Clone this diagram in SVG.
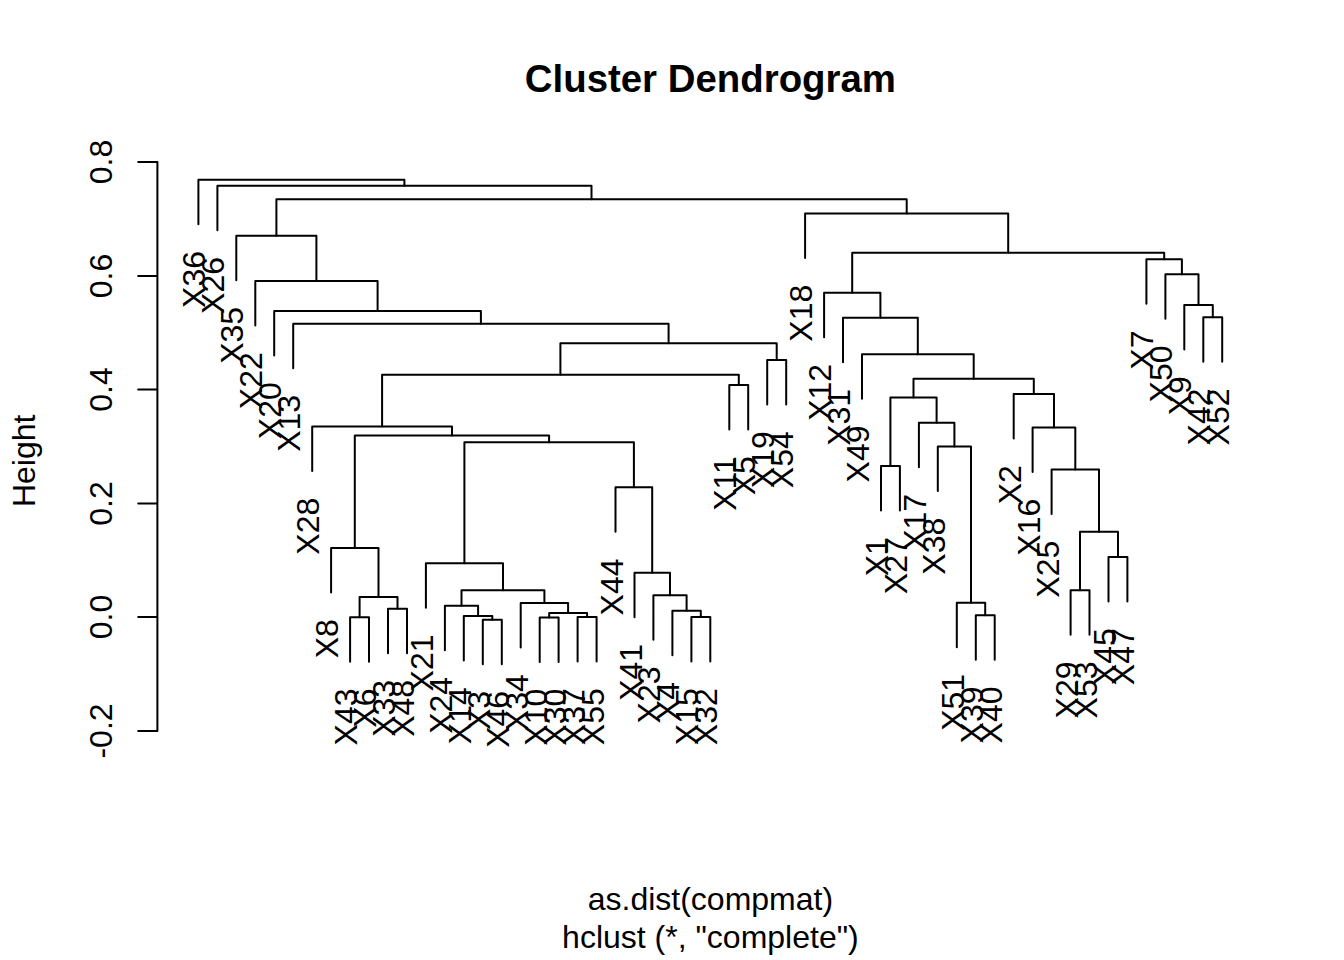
<svg xmlns="http://www.w3.org/2000/svg" width="1344" height="960" viewBox="0 0 1344 960">
<style>
text{font-family:"Liberation Sans",Arial,Helvetica,sans-serif;font-size:32px;fill:#000}
.lab{text-anchor:end}
.ax{text-anchor:middle}
.title{font-size:38.4px;font-weight:bold;text-anchor:middle}
.br{fill:none;stroke:#000;stroke-width:2;stroke-linecap:round;stroke-linejoin:round}
</style>
<rect width="1344" height="960" fill="#fff"/>
<text class="title" x="710.4" y="92">Cluster Dendrogram</text>
<g id="axis">
<path class="br" d="M157.4 162V731M157.4 162H138.2M157.4 276H138.2M157.4 389.5H138.2M157.4 503.5H138.2M157.4 617H138.2M157.4 731H138.2"/>
<text class="ax" transform="translate(112,162) rotate(-90)">0.8</text>
<text class="ax" transform="translate(112,276) rotate(-90)">0.6</text>
<text class="ax" transform="translate(112,389.5) rotate(-90)">0.4</text>
<text class="ax" transform="translate(112,503.5) rotate(-90)">0.2</text>
<text class="ax" transform="translate(112,617) rotate(-90)">0.0</text>
<text class="ax" transform="translate(112,731) rotate(-90)">-0.2</text>
<text class="ax" transform="translate(35,460.8) rotate(-90)">Height</text>
</g>
<text class="ax" x="710.4" y="909.5">as.dist(compmat)</text>
<text class="ax" x="710.4" y="947.9">hclust (*, "complete")</text>
<g id="connectors" class="br">
<path d="M198.4 224.3V179.8H404.4V185.8"/>
<path d="M217.4 230.3V185.8H591.5V199.2"/>
<path d="M276.4 235.7V199.2H906.7V213.5"/>
<path d="M236.3 280.2V235.7H316.4V281"/>
<path d="M255.3 325.5V281H377.6V311"/>
<path d="M274.2 355.5V311H480.9V323.7"/>
<path d="M293.2 368.2V323.7H668.6V343.3"/>
<path d="M560.4 374.7V343.3H776.7V360"/>
<path d="M382.1 426.5V374.7H738.8V385"/>
<path d="M729.3 429.5V385H748.2V429.5"/>
<path d="M767.2 404.5V360H786.2V404.5"/>
<path d="M312.2 471V426.5H452V435.5"/>
<path d="M354.8 548V435.5H549.1V442.3"/>
<path d="M331.1 592.5V548H378.5V597"/>
<path d="M359.6 617.3V597H397.5V608.7"/>
<path d="M350.1 661.8V617.3H369V661.8"/>
<path d="M388 653.2V608.7H407V653.2"/>
<path d="M464.4 563.3V442.3H633.9V487.3"/>
<path d="M425.9 607.8V563.3H503V590.3"/>
<path d="M461.5 605.7V590.3H544.4V603"/>
<path d="M444.9 650.2V605.7H478.1V616"/>
<path d="M463.8 660.5V616H492.3V619.7"/>
<path d="M482.8 664.2V619.7H501.8V664.2"/>
<path d="M520.7 647.5V603H568.1V613"/>
<path d="M549.2 617.5V613H587.1V617"/>
<path d="M539.7 662V617.5H558.6V662"/>
<path d="M577.6 661.5V617H596.6V661.5"/>
<path d="M615.5 531.8V487.3H652.2V572.7"/>
<path d="M634.5 617.2V572.7H670V595.3"/>
<path d="M653.4 639.8V595.3H686.6V610.7"/>
<path d="M672.4 655.2V610.7H700.8V617"/>
<path d="M691.4 661.5V617H710.3V661.5"/>
<path d="M805.1 258V213.5H1008.2V252.7"/>
<path d="M852.2 292.7V252.7H1164.2V259.3"/>
<path d="M824.1 337.2V292.7H880.4V317.7"/>
<path d="M843 362.2V317.7H917.8V354.3"/>
<path d="M862 398.8V354.3H973.7V378.7"/>
<path d="M913.5 397.5V378.7H1033.8V394"/>
<path d="M890.4 466V397.5H936.6V422.7"/>
<path d="M881 510.5V466H899.9V510.5"/>
<path d="M918.9 467.2V422.7H954.4V446.5"/>
<path d="M937.8 491V446.5H971V602.7"/>
<path d="M956.8 647.2V602.7H985.2V615.3"/>
<path d="M975.8 659.8V615.3H994.7V659.8"/>
<path d="M1013.7 438.5V394H1054V427.5"/>
<path d="M1032.6 472V427.5H1075.3V469.5"/>
<path d="M1051.6 514V469.5H1099V531.7"/>
<path d="M1080 590.3V531.7H1118V557"/>
<path d="M1070.6 634.8V590.3H1089.5V634.8"/>
<path d="M1108.5 601.5V557H1127.4V601.5"/>
<path d="M1146.4 303.8V259.3H1181.9V274.3"/>
<path d="M1165.4 318.8V274.3H1198.5V305"/>
<path d="M1184.3 349.5V305H1212.8V317.3"/>
<path d="M1203.3 361.8V317.3H1222.2V361.8"/>
</g>
<g id="leaf-X36"><text class="lab" transform="translate(205.4,251) rotate(-90)">X36</text></g>
<g id="leaf-X26"><text class="lab" transform="translate(224.4,257) rotate(-90)">X26</text></g>
<g id="leaf-X35"><text class="lab" transform="translate(243.3,306.9) rotate(-90)">X35</text></g>
<g id="leaf-X22"><text class="lab" transform="translate(262.3,352.2) rotate(-90)">X22</text></g>
<g id="leaf-X20"><text class="lab" transform="translate(281.2,382.2) rotate(-90)">X20</text></g>
<g id="leaf-X13"><text class="lab" transform="translate(300.2,394.9) rotate(-90)">X13</text></g>
<g id="leaf-X28"><text class="lab" transform="translate(319.2,497.7) rotate(-90)">X28</text></g>
<g id="leaf-X8"><text class="lab" transform="translate(338.1,619.2) rotate(-90)">X8</text></g>
<g id="leaf-X43"><text class="lab" transform="translate(357.1,688.5) rotate(-90)">X43</text></g>
<g id="leaf-X6"><text class="lab" transform="translate(376,688.5) rotate(-90)">X6</text></g>
<g id="leaf-X33"><text class="lab" transform="translate(395,679.9) rotate(-90)">X33</text></g>
<g id="leaf-X48"><text class="lab" transform="translate(414,679.9) rotate(-90)">X48</text></g>
<g id="leaf-X21"><text class="lab" transform="translate(432.9,634.5) rotate(-90)">X21</text></g>
<g id="leaf-X24"><text class="lab" transform="translate(451.9,676.9) rotate(-90)">X24</text></g>
<g id="leaf-X14"><text class="lab" transform="translate(470.8,687.2) rotate(-90)">X14</text></g>
<g id="leaf-X3"><text class="lab" transform="translate(489.8,690.9) rotate(-90)">X3</text></g>
<g id="leaf-X46"><text class="lab" transform="translate(508.8,690.9) rotate(-90)">X46</text></g>
<g id="leaf-X34"><text class="lab" transform="translate(527.7,674.2) rotate(-90)">X34</text></g>
<g id="leaf-X10"><text class="lab" transform="translate(546.7,688.7) rotate(-90)">X10</text></g>
<g id="leaf-X30"><text class="lab" transform="translate(565.6,688.7) rotate(-90)">X30</text></g>
<g id="leaf-X37"><text class="lab" transform="translate(584.6,688.2) rotate(-90)">X37</text></g>
<g id="leaf-X55"><text class="lab" transform="translate(603.6,688.2) rotate(-90)">X55</text></g>
<g id="leaf-X44"><text class="lab" transform="translate(622.5,558.5) rotate(-90)">X44</text></g>
<g id="leaf-X41"><text class="lab" transform="translate(641.5,643.9) rotate(-90)">X41</text></g>
<g id="leaf-X23"><text class="lab" transform="translate(660.4,666.5) rotate(-90)">X23</text></g>
<g id="leaf-X4"><text class="lab" transform="translate(679.4,681.9) rotate(-90)">X4</text></g>
<g id="leaf-X15"><text class="lab" transform="translate(698.4,688.2) rotate(-90)">X15</text></g>
<g id="leaf-X32"><text class="lab" transform="translate(717.3,688.2) rotate(-90)">X32</text></g>
<g id="leaf-X11"><text class="lab" transform="translate(736.3,456.2) rotate(-90)">X11</text></g>
<g id="leaf-X5"><text class="lab" transform="translate(755.2,456.2) rotate(-90)">X5</text></g>
<g id="leaf-X19"><text class="lab" transform="translate(774.2,431.2) rotate(-90)">X19</text></g>
<g id="leaf-X54"><text class="lab" transform="translate(793.2,431.2) rotate(-90)">X54</text></g>
<g id="leaf-X18"><text class="lab" transform="translate(812.1,284.7) rotate(-90)">X18</text></g>
<g id="leaf-X12"><text class="lab" transform="translate(831.1,363.9) rotate(-90)">X12</text></g>
<g id="leaf-X31"><text class="lab" transform="translate(850,388.9) rotate(-90)">X31</text></g>
<g id="leaf-X49"><text class="lab" transform="translate(869,425.5) rotate(-90)">X49</text></g>
<g id="leaf-X1"><text class="lab" transform="translate(888,537.2) rotate(-90)">X1</text></g>
<g id="leaf-X27"><text class="lab" transform="translate(906.9,537.2) rotate(-90)">X27</text></g>
<g id="leaf-X17"><text class="lab" transform="translate(925.9,493.9) rotate(-90)">X17</text></g>
<g id="leaf-X38"><text class="lab" transform="translate(944.8,517.7) rotate(-90)">X38</text></g>
<g id="leaf-X51"><text class="lab" transform="translate(963.8,673.9) rotate(-90)">X51</text></g>
<g id="leaf-X39"><text class="lab" transform="translate(982.8,686.5) rotate(-90)">X39</text></g>
<g id="leaf-X40"><text class="lab" transform="translate(1001.7,686.5) rotate(-90)">X40</text></g>
<g id="leaf-X2"><text class="lab" transform="translate(1020.7,465.2) rotate(-90)">X2</text></g>
<g id="leaf-X16"><text class="lab" transform="translate(1039.6,498.7) rotate(-90)">X16</text></g>
<g id="leaf-X25"><text class="lab" transform="translate(1058.6,540.7) rotate(-90)">X25</text></g>
<g id="leaf-X29"><text class="lab" transform="translate(1077.6,661.5) rotate(-90)">X29</text></g>
<g id="leaf-X53"><text class="lab" transform="translate(1096.5,661.5) rotate(-90)">X53</text></g>
<g id="leaf-X45"><text class="lab" transform="translate(1115.5,628.2) rotate(-90)">X45</text></g>
<g id="leaf-X47"><text class="lab" transform="translate(1134.4,628.2) rotate(-90)">X47</text></g>
<g id="leaf-X7"><text class="lab" transform="translate(1153.4,330.5) rotate(-90)">X7</text></g>
<g id="leaf-X50"><text class="lab" transform="translate(1172.4,345.5) rotate(-90)">X50</text></g>
<g id="leaf-X9"><text class="lab" transform="translate(1191.3,376.2) rotate(-90)">X9</text></g>
<g id="leaf-X42"><text class="lab" transform="translate(1210.3,388.5) rotate(-90)">X42</text></g>
<g id="leaf-X52"><text class="lab" transform="translate(1229.2,388.5) rotate(-90)">X52</text></g>
</svg>
